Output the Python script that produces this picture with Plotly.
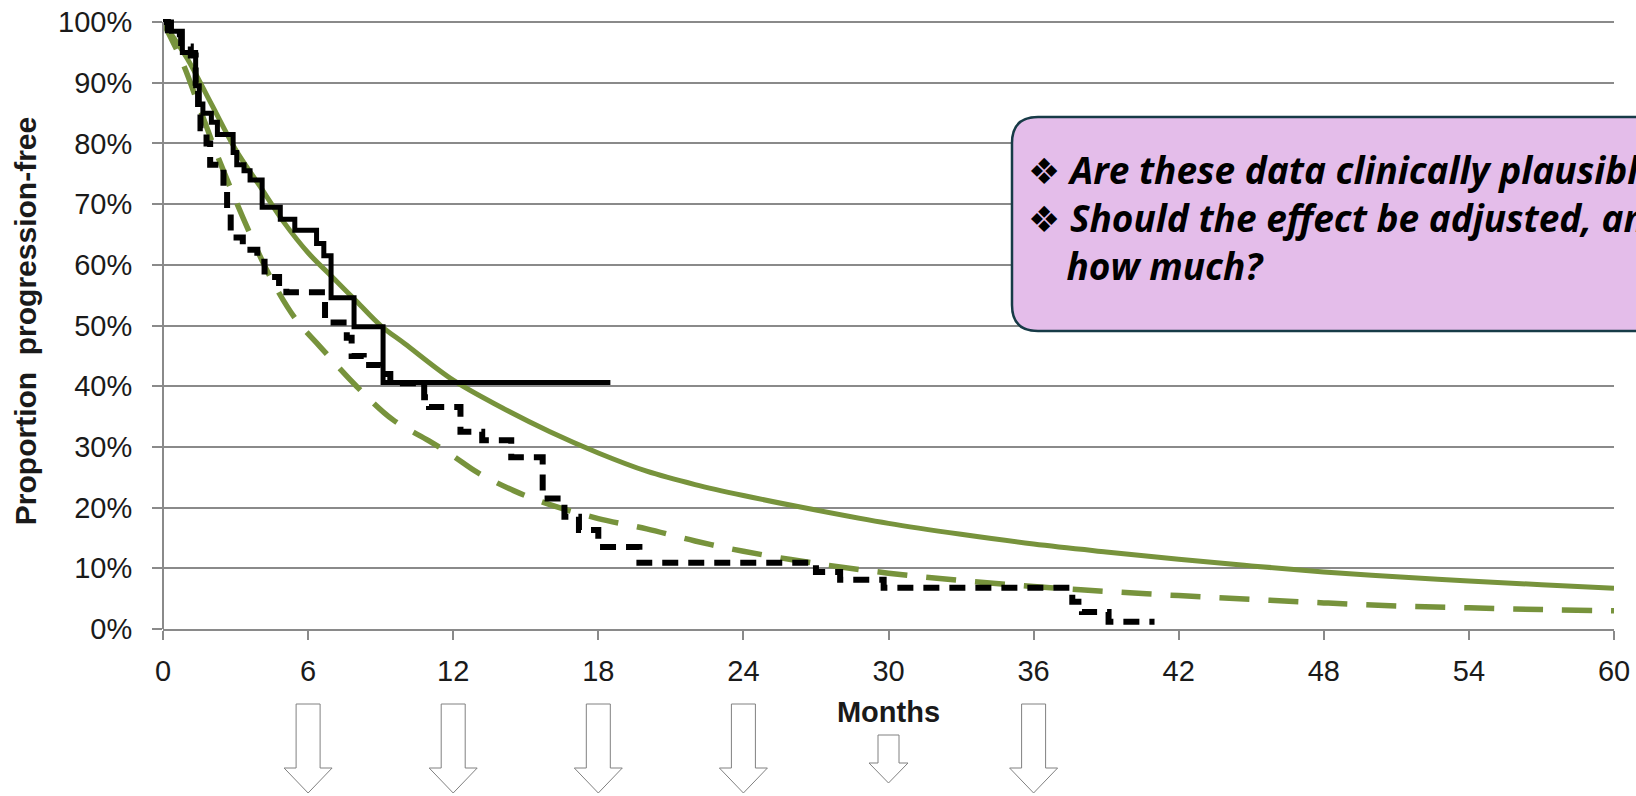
import plotly.graph_objects as go

# ---------------- data ----------------
month_ticks = list(range(0, 61, 6))
pct_ticks = [i / 10 for i in range(11)]

# fitted (parametric) curve, arm A (solid green)
fitA_t = [0, 1, 2, 3, 4, 5, 6, 7, 8, 9, 10, 12, 14, 16, 18, 20, 22, 24, 27, 30,
          33, 36, 39, 42, 45, 48, 51, 54, 57, 60]
fitA_s = [100, 94, 86.5, 79, 73, 67, 62, 58, 54, 50, 47, 41, 36.5, 32.5, 29, 26,
          23.8, 22, 19.6, 17.4, 15.6, 14, 12.7, 11.5, 10.4, 9.4, 8.6, 7.9, 7.3, 6.7]

# fitted curve, arm B (dashed green)
fitB_t = [0, 0.8, 1.5, 2.25, 3.5, 4.5, 5.5, 6.5, 8, 9.5, 11, 12, 13, 14.5, 16, 18,
          20, 22, 24, 27, 30, 33, 36, 39, 42, 45, 48, 51, 54, 57, 60]
fitB_s = [100, 93.4, 86, 78, 66, 57.5, 51, 46.5, 40, 34.5, 31, 28.5, 25.8, 22.8,
          20.5, 18.2, 16.5, 14.5, 12.8, 10.8, 9.2, 8.0, 7.0, 6.2, 5.5, 4.9, 4.3,
          3.8, 3.5, 3.2, 3.0]

# Kaplan-Meier, arm A (solid black)
kmA_t = [0, 0.35, 0.8, 1.35, 1.5, 1.65, 2.0, 2.25, 2.9, 3.05, 3.35, 3.6, 4.1,
         4.85, 5.45, 6.35, 6.65, 6.95, 7.9, 9.1, 18.5]
kmA_s = [100, 98.5, 95.0, 89.5, 86.5, 85.0, 83.5, 81.5, 78.5, 76.5, 75.5, 74.0,
         69.5, 67.5, 65.7, 63.5, 61.5, 54.6, 49.8, 40.6, 40.6]

# Kaplan-Meier, arm B (dashed black)
kmB_t = [0, 0.2, 0.75, 1.15, 1.35, 1.45, 1.55, 1.8, 1.95, 2.5, 2.65, 2.8, 3.3,
         3.9, 4.2, 4.8, 5.1, 6.7, 7.6, 7.8, 8.3, 9.0, 9.4, 10.8, 11.0, 12.3,
         13.2, 14.4, 15.7, 16.6, 17.2, 18.0, 19.7, 27.0, 28.0, 29.8, 37.6, 38.0,
         39.1, 41.0]
kmB_s = [100, 98, 96, 94.5, 90, 85, 82.5, 80, 76.5, 73, 69, 64.5, 62.5, 60.5,
         58, 56.5, 55.5, 50.5, 48, 45, 43.5, 42, 40.5, 38.2, 36.6, 32.5, 31.1,
         28.3, 21.5, 18.5, 16.3, 13.5, 10.9, 9.4, 8.1, 6.8, 4.5, 2.8, 1.2, 1.2]

arrow_months = [6, 12, 18, 24, 30, 36]
arrow_big = [True, True, True, True, False, True]

BULLET = "<span style=\"font-family:'DejaVu Sans';font-size:36px\">\u2756</span>"
question_text = (BULLET + " Are these data clinically plausible?<br>"
                 + BULLET + " Should the effect be adjusted, and if so,<br>"
                 "\u00a0\u00a0\u00a0\u00a0how much?")

# ---------------- layout geometry ----------------
W, H = 1636, 796
L, R, T, B = 163, 22, 13, 167
PW, PH = W - L - R, H - T - B

GREEN = "#77933C"
GRID = "#8A8A8A"
TXT = "#1a1a1a"


def pct(v):
    return [x / 100 for x in v]


def px_x(px):
    return (px - L) / PW


def px_y(py):
    return (H - B - py) / PH


fig = go.Figure()
fig.add_trace(go.Scatter(x=fitB_t, y=pct(fitB_s), mode="lines", line_shape="spline",
                         line=dict(color=GREEN, width=5.5, dash="30px,19px"),
                         name="Fit B", hoverinfo="skip"))
fig.add_trace(go.Scatter(x=fitA_t, y=pct(fitA_s), mode="lines", line_shape="spline",
                         line=dict(color=GREEN, width=5),
                         name="Fit A", hoverinfo="skip"))
fig.add_trace(go.Scatter(x=kmB_t, y=pct(kmB_s), mode="lines", line_shape="hv",
                         line=dict(color="black", width=6, dash="16px,10px"),
                         name="KM B", hoverinfo="skip"))
fig.add_trace(go.Scatter(x=kmA_t, y=pct(kmA_s), mode="lines", line_shape="hv",
                         line=dict(color="black", width=5),
                         name="KM A", hoverinfo="skip"))

axis_font = dict(family="Liberation Sans, Arial, sans-serif", size=29, color=TXT)

fig.update_layout(
    width=W, height=H,
    margin=dict(l=L, r=R, t=T, b=B, pad=0),
    paper_bgcolor="white", plot_bgcolor="white",
    showlegend=False,
    xaxis=dict(range=[0, 60], tickvals=month_ticks, ticktext=[str(m) for m in month_ticks],
               showgrid=False, zeroline=False, showline=True, linecolor=GRID, linewidth=2,
               ticks="outside", ticklen=9, tickwidth=2, tickcolor=GRID,
               tickfont=axis_font, ticklabelstandoff=6,
               title=dict(text="<b>Months</b>", font=dict(family="Liberation Sans, Arial, sans-serif",
                                                        size=29, color=TXT), standoff=16),
               automargin=False, fixedrange=True),
    yaxis=dict(range=[0, 1.015], tickvals=pct_ticks, tickformat=".0%",
               showgrid=True, gridcolor=GRID, gridwidth=2, zeroline=False, showline=False,
               ticks="outside", ticklen=10, tickwidth=2, tickcolor=GRID,
               tickfont=axis_font, ticklabelstandoff=14,
               title=dict(text="<b>Proportion\u00a0 progression-free</b>",
                          font=dict(family="Liberation Sans, Arial, sans-serif", size=30, color=TXT),
                          standoff=12),
               automargin=False, fixedrange=True),
)

# y axis line (0% to 100%)
fig.add_shape(type="line", xref="paper", yref="y", x0=0, x1=0, y0=0, y1=1,
              line=dict(color=GRID, width=2), layer="above")

# block arrows under the x axis
for m, big in zip(arrow_months, arrow_big):
    if big:
        sw, top, base, hw, tip = 12, -75, -139, 24, -164
    else:
        sw, top, base, hw, tip = 10.5, -106, -134, 19.5, -154
    path = (f"M {-sw},{top} L {sw},{top} L {sw},{base} L {hw},{base} "
            f"L 0,{tip} L {-hw},{base} L {-sw},{base} Z")
    fig.add_shape(type="path", path=path, xref="x", xsizemode="pixel", xanchor=m,
                  yref="paper", ysizemode="pixel", yanchor=0,
                  fillcolor="white", line=dict(color="#808080", width=1), layer="above")

# callout box (rounded rectangle, runs off the right edge)
bx0, bx1, by0, by1, r = 1012 - L, 1700 - L, H - B - 331, H - B - 117, 26
box = (f"M {bx0 + r},{by0} L {bx1},{by0} L {bx1},{by1} L {bx0 + r},{by1} "
       f"Q {bx0},{by1} {bx0},{by1 - r} L {bx0},{by0 + r} Q {bx0},{by0} {bx0 + r},{by0} Z")
fig.add_shape(type="path", path=box, xref="paper", xsizemode="pixel", xanchor=0,
              yref="paper", ysizemode="pixel", yanchor=0,
              fillcolor="#E4BDEA", line=dict(color="#173B47", width=2.5), layer="above")

qfont = dict(family="'Open Sans', Lato, sans-serif", size=37, color="black",
             weight="bold", style="italic")
fig.add_annotation(text=question_text, x=px_x(1026), y=px_y(217), xref="paper", yref="paper",
                   xanchor="left", yanchor="middle", align="left", showarrow=False, font=qfont)

fig.write_html("out.html")
